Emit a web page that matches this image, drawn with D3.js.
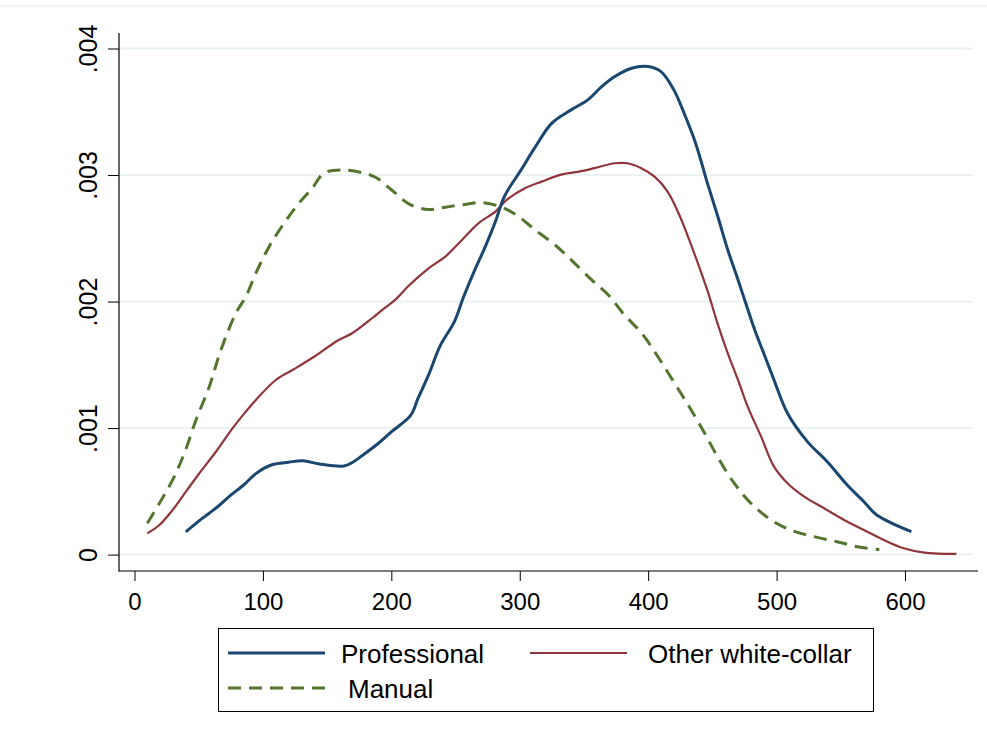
<!DOCTYPE html>
<html lang="en">
<head>
<meta charset="UTF-8">
<title>Density by occupation</title>
<script src="https://cdn.jsdelivr.net/npm/d3@7"></script>
<style>
  body { margin: 0; background: #fff; }
  text { font-family: "Liberation Sans", Arial, sans-serif; fill: #000; }
</style>
</head>
<body>
<div id="chart"></div>
<script>
// density values are in units of 0.001
const professional = [[40,0.18],[52,0.28],[65,0.38],[75,0.47],[85,0.55],[94.5,0.64],[107,0.71],[120,0.73],[131,0.742],[144,0.716],[163,0.70],[170,0.73],[177,0.78],[190,0.88],[200,0.97],[215,1.10],[221,1.24],[229,1.42],[238,1.65],[249,1.84],[256,2.03],[265,2.25],[273,2.43],[281,2.63],[288,2.83],[301,3.04],[312,3.22],[325,3.41],[340,3.515],[353,3.594],[364,3.70],[374,3.778],[387,3.844],[400,3.857],[410,3.817],[420,3.673],[428,3.488],[437,3.25],[446,2.94],[454,2.68],[462,2.408],[470,2.171],[476,1.986],[483,1.775],[490,1.591],[498,1.38],[508.5,1.117],[524,0.893],[539.5,0.734],[555,0.55],[568,0.418],[578,0.313],[605,0.181]];
const otherWhiteCollar = [[10,0.168],[19.4,0.234],[29.7,0.353],[40,0.497],[50.5,0.643],[63.4,0.813],[76.3,0.998],[86.7,1.13],[94.5,1.222],[110,1.38],[123,1.459],[138,1.552],[159,1.696],[169.5,1.749],[185,1.868],[193,1.934],[203,2.013],[213.5,2.125],[229,2.263],[242,2.355],[255,2.487],[268,2.62],[281,2.711],[290,2.805],[304,2.896],[317,2.948],[333,3.005],[346,3.027],[358,3.054],[374,3.093],[384,3.093],[394.6,3.054],[405,2.987],[415,2.87],[424,2.69],[431,2.513],[438.7,2.303],[446.4,2.08],[454,1.828],[462,1.591],[470,1.38],[477.5,1.169],[488,0.932],[498,0.695],[508.5,0.564],[521.5,0.458],[537,0.366],[552.6,0.274],[568,0.194],[583.6,0.115],[599,0.05],[615,0.015],[640,0.005]];
const manual = [[10,0.247],[19.4,0.406],[29.7,0.59],[38.8,0.801],[47.9,1.064],[58.2,1.327],[67.3,1.617],[78.9,1.907],[86.7,2.039],[94.5,2.224],[104.8,2.434],[116.5,2.619],[128,2.777],[138.4,2.896],[147.5,3.014],[162,3.04],[177,3.019],[188,2.98],[200.5,2.88],[214,2.77],[229,2.727],[242,2.746],[255,2.764],[270,2.782],[286,2.746],[299,2.672],[312,2.566],[327.5,2.447],[340,2.33],[356,2.171],[369,2.052],[381,1.90],[395,1.749],[407.6,1.564],[420.6,1.354],[433.5,1.143],[444,0.959],[454,0.774],[467,0.564],[480,0.406],[495.7,0.274],[511,0.194],[529,0.142],[547,0.102],[563,0.062],[580,0.04]];

const seriesNames = ["Professional", "Other white-collar", "Manual"];
const xTicks = [0, 100, 200, 300, 400, 500, 600];
const yTicks = [0, 0.001, 0.002, 0.003, 0.004];

var width = 987, height = 740;

var svg = d3.select("#chart").append("svg")
    .attr("width", width)
    .attr("height", height);

var x = d3.scaleLinear().domain([0, 600]).range([134.5, 905]);
var y = d3.scaleLinear().domain([0, 0.004]).range([554.6, 48.5]);

var plotLeft = 119, plotRight = 975, plotTop = 33, plotBottom = 571;

// faint line at the very top (remains of the cropped title area)
svg.append("line")
    .attr("x1", 0).attr("x2", width)
    .attr("y1", 6).attr("y2", 6)
    .attr("stroke", "#e6e6e6").attr("stroke-width", 1);

// gridlines
svg.append("g").selectAll("line")
    .data(yTicks).enter().append("line")
    .attr("x1", plotLeft + 1).attr("x2", plotRight - 2)
    .attr("y1", d => y(d)).attr("y2", d => y(d))
    .attr("stroke", "#eaf2f3").attr("stroke-width", 2);

// y axis
var fmtY = d => d === 0 ? "0" : d3.format(".3f")(d).replace(/^0/, "");
var yAxis = svg.append("g")
    .attr("transform", "translate(" + plotLeft + ",0)")
    .call(d3.axisLeft(y).tickValues(yTicks).tickSize(11).tickSizeOuter(0).tickFormat(fmtY));
yAxis.select(".domain").remove();
yAxis.selectAll(".tick line").attr("stroke", "#000");
yAxis.selectAll(".tick text")
    .attr("x", null).attr("dy", null)
    .attr("transform", "translate(-22,0) rotate(-90)")
    .attr("text-anchor", "middle")
    .attr("font-size", "25px")
    .style("font-family", "'Liberation Sans', Arial, sans-serif");

// x axis
var xAxis = svg.append("g")
    .attr("transform", "translate(0," + plotBottom + ")")
    .call(d3.axisBottom(x).tickValues(xTicks).tickSize(10).tickSizeOuter(0));
xAxis.select(".domain").remove();
xAxis.selectAll(".tick line").attr("stroke", "#000");
xAxis.selectAll(".tick text")
    .attr("y", 22).attr("dy", "0.71em")
    .attr("font-size", "24px")
    .style("font-family", "'Liberation Sans', Arial, sans-serif");

// axis lines
svg.append("line")
    .attr("x1", plotLeft).attr("x2", plotLeft)
    .attr("y1", plotTop).attr("y2", plotBottom + 0.5)
    .attr("stroke", "#000").attr("stroke-width", 1.2);
svg.append("line")
    .attr("x1", plotLeft).attr("x2", plotRight + 3)
    .attr("y1", plotBottom).attr("y2", plotBottom)
    .attr("stroke", "#000").attr("stroke-width", 1.2);

var line = d3.line()
    .x(d => x(d[0]))
    .y(d => y(d[1] / 1000))
    .curve(d3.curveCatmullRom.alpha(0.5));

var styles = [
    {data: professional, color: "#1a476f", w: 3, dash: null},
    {data: otherWhiteCollar, color: "#90353b", w: 2.2, dash: null},
    {data: manual, color: "#55752f", w: 3, dash: "13,8"}
];

// draw manual first so solid lines sit on top like the original
[2, 1, 0].forEach(function(i) {
    var s = styles[i];
    svg.append("path")
        .attr("d", line(s.data))
        .attr("fill", "none")
        .attr("stroke", s.color)
        .attr("stroke-width", s.w)
        .attr("stroke-dasharray", s.dash)
        .attr("stroke-linejoin", "round");
});

// legend
var legend = svg.append("g");
legend.append("rect")
    .attr("x", 218.5).attr("y", 628.5)
    .attr("width", 655).attr("height", 83)
    .attr("fill", "#fff").attr("stroke", "#000").attr("stroke-width", 1);

var legendPos = [
    {lx: 228, ly: 653, tx: 341},
    {lx: 530, ly: 653, tx: 648},
    {lx: 228, ly: 688, tx: 348}
];
seriesNames.forEach(function(name, i) {
    var p = legendPos[i], s = styles[i];
    legend.append("line")
        .attr("x1", p.lx).attr("x2", p.lx + 97)
        .attr("y1", p.ly).attr("y2", p.ly)
        .attr("stroke", s.color)
        .attr("stroke-width", s.w)
        .attr("stroke-dasharray", s.dash);
    legend.append("text")
        .attr("x", p.tx).attr("y", p.ly + 10)
        .attr("font-size", "26px")
        .text(name);
});
</script>
</body>
</html>
